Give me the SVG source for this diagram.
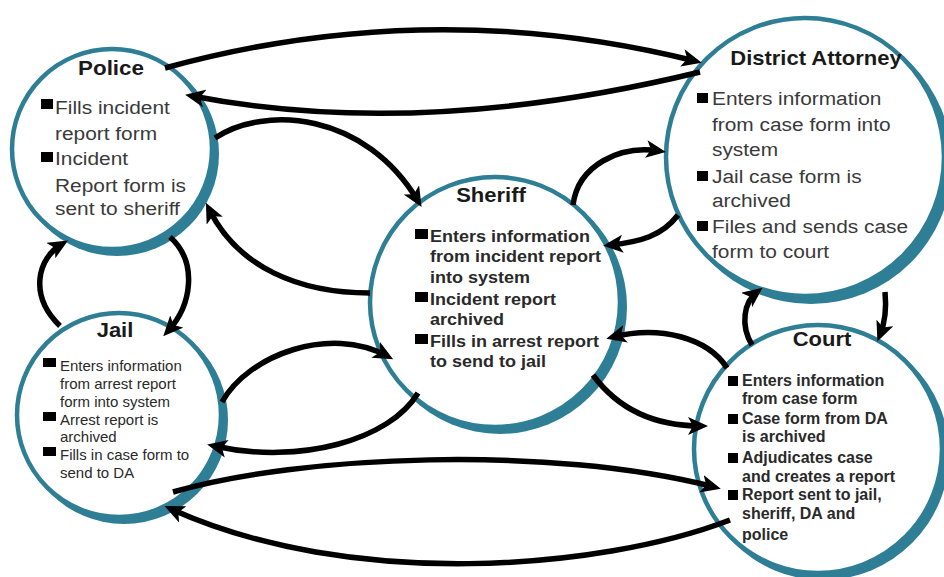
<svg xmlns="http://www.w3.org/2000/svg" width="944" height="577" viewBox="0 0 944 577">
<style>
.sh{fill:#2E7E96;stroke:none}
.ring{fill:#fff;stroke:#2E7E96;stroke-width:4.5}
.title{font-family:"Liberation Sans",Arial,sans-serif;font-weight:bold;font-size:20px;fill:#1a1a1a;text-anchor:middle}
.reg{font-family:"Liberation Sans",Arial,sans-serif;font-size:18px;fill:#3a3a3a}
.sb{font-family:"Liberation Sans",Arial,sans-serif;font-size:17px;font-weight:bold;fill:#2a2a2a}
.jb{font-family:"Liberation Sans",Arial,sans-serif;font-size:15px;fill:#2a2a2a}
.cb{font-family:"Liberation Sans",Arial,sans-serif;font-size:16px;font-weight:bold;fill:#2a2a2a}
.bul{fill:#000}
.con{fill:none;stroke:#000;stroke-width:5.5;marker-end:url(#ah)}
</style>
<defs>
<marker id="ah" viewBox="0 0 20 18" refX="13" refY="9" markerWidth="20" markerHeight="18" markerUnits="userSpaceOnUse" orient="auto">
<path d="M0,0 L20,9 L0,18 L5,9 Z" fill="#000"/>
</marker>
</defs>
<rect width="944" height="577" fill="#fff"/>

<g id="police">
<circle class="sh" cx="117" cy="154" r="102"/>
<circle class="ring" cx="112" cy="149" r="100"/>
<text class="title" transform="translate(111,75) scale(1.12,1)">Police</text>
<rect class="bul" x="41" y="99" width="12" height="10"/>
<rect class="bul" x="41" y="152" width="12" height="10"/>
<g transform="translate(55,0) scale(1.16,1)">
<text class="reg" x="0" y="114">Fills incident</text>
<text class="reg" x="0" y="140">report form</text>
<text class="reg" x="0" y="165">Incident</text>
<text class="reg" x="0" y="192">Report form is</text>
<text class="reg" x="0" y="215">sent to sheriff</text>
</g>
</g>

<g id="district-attorney">
<circle class="sh" cx="811" cy="163" r="141"/>
<circle class="ring" cx="805" cy="157" r="139"/>
<text class="title" transform="translate(816,65) scale(1.1,1)">District Attorney</text>
<rect class="bul" x="697" y="93" width="11" height="10"/>
<rect class="bul" x="697" y="171" width="11" height="10"/>
<rect class="bul" x="697" y="221" width="11" height="10"/>
<g transform="translate(712,0) scale(1.16,1)">
<text class="reg" x="0" y="105">Enters information</text>
<text class="reg" x="0" y="131">from case form into</text>
<text class="reg" x="0" y="156">system</text>
<text class="reg" x="0" y="183">Jail case form is</text>
<text class="reg" x="0" y="207">archived</text>
<text class="reg" x="0" y="233">Files and sends case</text>
<text class="reg" x="0" y="258">form to court</text>
</g>
</g>

<g id="sheriff">
<circle class="sh" cx="500" cy="307" r="127"/>
<circle class="ring" cx="495" cy="302" r="125"/>
<text class="title" transform="translate(491,202) scale(1.1,1)">Sheriff</text>
<rect class="bul" x="415" y="229" width="13" height="10"/>
<rect class="bul" x="415" y="292" width="13" height="10"/>
<rect class="bul" x="415" y="334" width="13" height="10"/>
<g transform="translate(430,0) scale(1.06,1)">
<text class="sb" x="0" y="242">Enters information</text>
<text class="sb" x="0" y="262">from incident report</text>
<text class="sb" x="0" y="283">into system</text>
<text class="sb" x="0" y="305">Incident report</text>
<text class="sb" x="0" y="325">archived</text>
<text class="sb" x="0" y="347">Fills in arrest report</text>
<text class="sb" x="0" y="367">to send to jail</text>
</g>
</g>

<g id="jail">
<circle class="sh" cx="124" cy="420" r="104"/>
<circle class="ring" cx="119" cy="415" r="102"/>
<text class="title" transform="translate(115,337) scale(1.1,1)">Jail</text>
<rect class="bul" x="43" y="358" width="13" height="9"/>
<rect class="bul" x="43" y="412" width="13" height="9"/>
<rect class="bul" x="43" y="447" width="13" height="9"/>
<text class="jb" x="60" y="371">Enters information</text>
<text class="jb" x="60" y="389">from arrest report</text>
<text class="jb" x="60" y="407">form into system</text>
<text class="jb" x="60" y="425">Arrest report is</text>
<text class="jb" x="60" y="442">archived</text>
<text class="jb" x="60" y="460">Fills in case form to</text>
<text class="jb" x="60" y="478">send to DA</text>
</g>

<g id="court">
<circle class="sh" cx="823" cy="454" r="126"/>
<circle class="ring" cx="818" cy="449" r="124"/>
<text class="title" transform="translate(822,346) scale(1.1,1)">Court</text>
<rect class="bul" x="728" y="376" width="10" height="10"/>
<rect class="bul" x="728" y="414" width="10" height="10"/>
<rect class="bul" x="728" y="453" width="10" height="10"/>
<rect class="bul" x="728" y="490" width="10" height="10"/>
<text class="cb" x="742" y="386">Enters information</text>
<text class="cb" x="742" y="404">from case form</text>
<text class="cb" x="742" y="424">Case form from DA</text>
<text class="cb" x="742" y="442">is archived</text>
<text class="cb" x="742" y="463">Adjudicates case</text>
<text class="cb" x="742" y="482">and creates a report</text>
<text class="cb" x="742" y="500">Report sent to jail,</text>
<text class="cb" x="742" y="519">sheriff, DA and</text>
<text class="cb" x="742" y="540">police</text>
</g>

<g id="connectors">
<path class="con" d="M165,68 Q430,-5 695,61"/>
<path class="con" d="M700,72 Q420,140 192,96"/>
<path class="con" d="M215,138 C265,105 365,112 418,201"/>
<path class="con" d="M370,293 C300,293 238,268 209,209"/>
<path class="con" d="M60,326 C28,295 38,258 62,244"/>
<path class="con" d="M170,237 C198,262 192,305 168,331"/>
<path class="con" d="M573,205 C578,165 620,145 659,151"/>
<path class="con" d="M678,215 C662,236 640,242 610,245"/>
<path class="con" d="M752,345 C740,325 744,302 757,292"/>
<path class="con" d="M885,292 C887,312 884,325 880,335"/>
<path class="con" d="M727,368 C708,338 660,325 613,337"/>
<path class="con" d="M593,375 C615,405 650,426 701,426"/>
<path class="con" d="M222,402 C248,355 330,325 387,356"/>
<path class="con" d="M418,393 C390,440 300,465 214,446"/>
<path class="con" d="M173,492 C300,455 550,445 714,487"/>
<path class="con" d="M730,520 C600,570 350,590 171,509"/>
</g>
</svg>
